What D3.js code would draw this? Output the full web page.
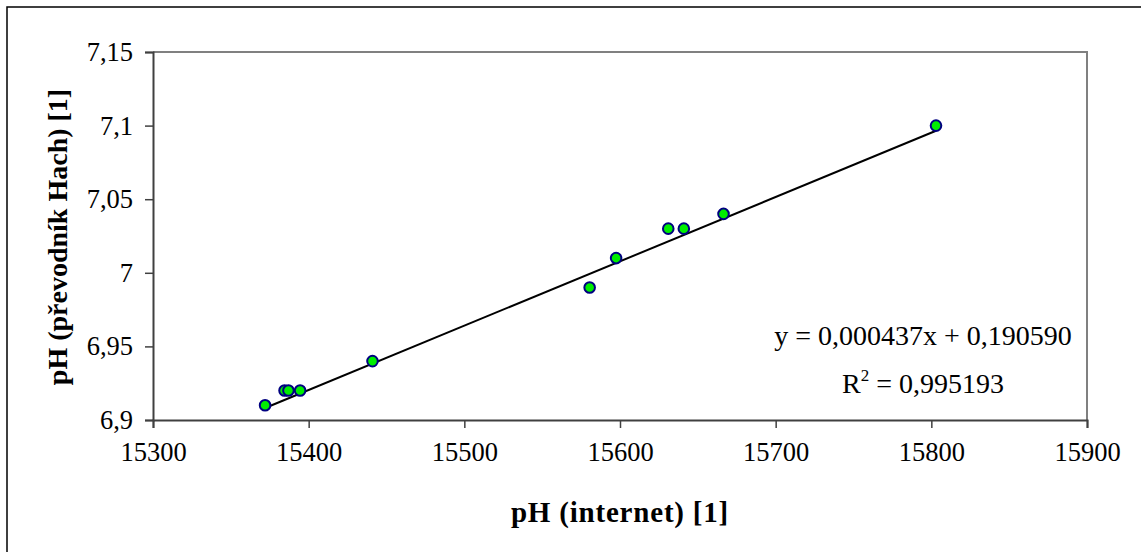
<!DOCTYPE html>
<html>
<head>
<meta charset="utf-8">
<script src="https://cdn.jsdelivr.net/npm/d3@7"></script>
<style>
  html, body { margin: 0; padding: 0; background: #fff; }
  svg { display: block; }
  text { font-family: "Liberation Serif", "Times New Roman", serif; fill: #000; }
</style>
</head>
<body>
<svg id="chart" width="1141" height="552"></svg>
<script>
// Measurements: pH from the internet source vs. pH from the Hach converter
const internetPH = [15372, 15384.5, 15387, 15394.5, 15441, 15580.5, 15597.5, 15631, 15641, 15666.5, 15803];
const hachPH     = [6.91, 6.92, 6.92, 6.92, 6.94, 6.99, 7.01, 7.03, 7.03, 7.04, 7.10];

// Axis ticks
const xTicks = [15300, 15400, 15500, 15600, 15700, 15800, 15900];
const yTicks = [6.9, 6.95, 7.0, 7.05, 7.1, 7.15];

// Linear trendline coefficients
const slope = 0.000437;
const intercept = 0.190590;
const rSquared = 0.995193;

const svg = d3.select("#chart");
const plot = { left: 153, top: 52, right: 1087, bottom: 420 };

const x = d3.scaleLinear().domain([15300, 15900]).range([plot.left, plot.right]);
const y = d3.scaleLinear().domain([6.9, 7.15]).range([plot.bottom, plot.top]);

const fmt = v => d3.format("")(+v.toFixed(2)).replace(".", ",");

// Outer chart frame
svg.append("rect")
  .attr("x", 7).attr("y", 7).attr("width", 1200).attr("height", 600)
  .attr("fill", "none").attr("stroke", "#000").attr("stroke-width", 1.5);

// Plot area frame (top & right)
svg.append("path")
  .attr("d", `M${plot.left},${plot.top}H${plot.right}V${plot.bottom}`)
  .attr("fill", "none").attr("stroke", "#808080").attr("stroke-width", 2);

// X axis
const xAxis = svg.append("g")
  .attr("transform", `translate(0,${plot.bottom})`)
  .call(d3.axisBottom(x).tickValues(xTicks).tickFormat(d3.format("d")).tickSize(8).tickPadding(14));
// Y axis
const yAxis = svg.append("g")
  .attr("transform", `translate(${plot.left},0)`)
  .call(d3.axisLeft(y).tickValues(yTicks).tickFormat(fmt).tickSize(8).tickPadding(12));

[xAxis, yAxis].forEach(g => {
  g.select(".domain").attr("stroke", "#404040").attr("stroke-width", 2);
  g.selectAll(".tick line").attr("stroke", "#404040").attr("stroke-width", 1.5);
  g.selectAll(".tick text")
    .style("font-family", "'Liberation Serif', 'Times New Roman', serif")
    .style("font-size", "26.5px").attr("fill", "#000");
});

// Trendline over the data range
const xMin = d3.min(internetPH), xMax = d3.max(internetPH);
svg.append("line")
  .attr("x1", x(xMin)).attr("y1", y(slope * xMin + intercept))
  .attr("x2", x(xMax)).attr("y2", y(slope * xMax + intercept))
  .attr("stroke", "#000").attr("stroke-width", 2);

// Data points
svg.append("g").selectAll("circle")
  .data(internetPH.map((v, i) => [v, hachPH[i]]))
  .join("circle")
  .attr("cx", d => x(d[0])).attr("cy", d => y(d[1]))
  .attr("r", 5.3)
  .attr("fill", "#00ee00").attr("stroke", "#000080").attr("stroke-width", 2);

// Trendline label (two centred lines)
const numFmt = (v, n) => v.toFixed(n).replace(".", ",");
const labelX = 923;
svg.append("text")
  .attr("x", labelX).attr("y", 345).attr("text-anchor", "middle")
  .style("font-size", "28px")
  .text(`y = ${numFmt(slope, 6)}x + ${numFmt(intercept, 6)}`);
const r2 = svg.append("text")
  .attr("x", labelX).attr("y", 393).attr("text-anchor", "middle")
  .style("font-size", "28px");
r2.append("tspan").text("R");
r2.append("tspan").attr("dy", -12).style("font-size", "17px").text("2");
r2.append("tspan").attr("dy", 12).text(` = ${numFmt(rSquared, 6)}`);

// Axis titles
svg.append("text")
  .attr("x", 620).attr("y", 522).attr("text-anchor", "middle")
  .style("font-size", "29px").style("font-weight", "bold").style("letter-spacing", "0.8px")
  .text("pH (internet) [1]");
svg.append("text")
  .attr("transform", "translate(67,237) rotate(-90)")
  .attr("text-anchor", "middle")
  .style("font-size", "28px").style("font-weight", "bold")
  .text("pH (převodník Hach) [1]");
</script>
</body>
</html>
